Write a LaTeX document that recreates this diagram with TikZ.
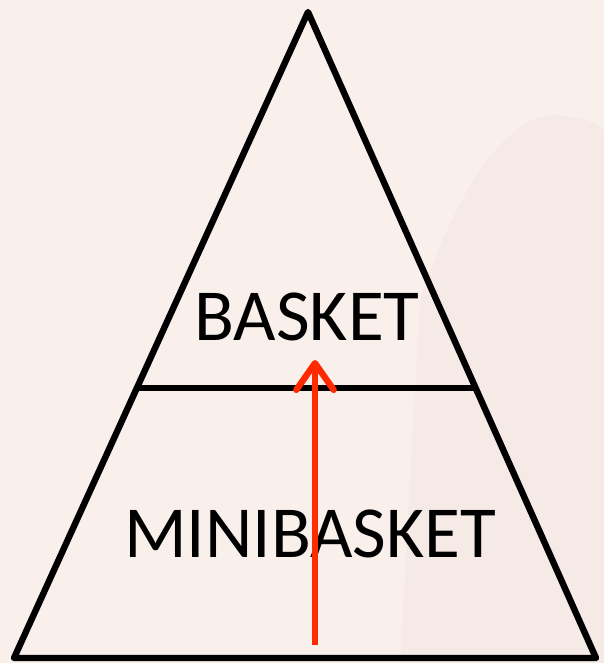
\documentclass[tikz,border=0pt]{standalone}
\usepackage{fontspec}
\setmainfont{Carlito}
\usetikzlibrary{arrows.meta}
\definecolor{bgc}{HTML}{F9F0EC}
\definecolor{bgd}{HTML}{F5EAE6}
\definecolor{arrowred}{HTML}{FF2A00}
\tikzset{
  edge/.style={line width=4.8pt, line join=round, line cap=round, black},
  label/.style={font=\fontsize{55pt}{60pt}\selectfont, anchor=base, inner sep=0pt},
  uparrow/.style={line width=4.8pt, arrowred, -{Straight Barb[round, length=20pt, width=28pt, line width=4.8pt]}}
}
\begin{document}
\begin{tikzpicture}[x=0.75pt, y=-0.75pt]
\fill[bgc] (0,0) rectangle (604,663);
\useasboundingbox (0,0) rectangle (604,663);
\fill[bgd] (400,663) -- (420,300) .. controls (460,180) and (510,115) .. (555,115) .. controls (585,117) and (600,125) .. (604,130) -- (604,663) -- cycle;
\coordinate (apex) at (308,12);
\coordinate (bl) at (14,658);
\coordinate (br) at (596,658);
\coordinate (ml) at (137,388);
\coordinate (mr) at (475.5,388);
\draw[edge] (apex) -- (bl) -- (br) -- cycle;
\draw[edge, line cap=butt] (ml) -- (mr);
\node[label] (basket) at (307,340) {BASKET};
\node[label] (mini) at (310,557) {MINIBASKET};
\coordinate (abot) at (315,645);
\coordinate (atop) at (315,360);
\draw[uparrow] (abot) -- (atop);
\end{tikzpicture}
\end{document}
